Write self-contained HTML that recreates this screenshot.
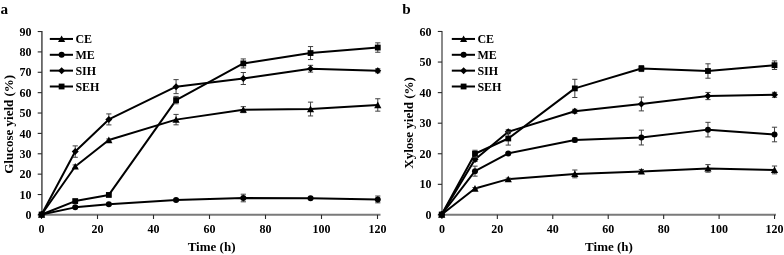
<!DOCTYPE html><html><head><meta charset="utf-8"><style>html,body{margin:0;padding:0;background:#fff;}svg{display:block;filter:grayscale(1);}</style></head><body>
<svg width="784" height="255" viewBox="0 0 784 255">
<rect width="784" height="255" fill="#fff"/>
<g><text x="0.6" y="14" style="font-family:'Liberation Serif',serif;font-weight:bold;font-size:15.2px">a</text><line x1="41.9" y1="31.0" x2="41.9" y2="214.8" stroke="#666" stroke-width="1.8"/><line x1="37.699999999999996" y1="214.90" x2="41.9" y2="214.90" stroke="#2a2a2a" stroke-width="1.1"/><text x="31.40" y="219.00" text-anchor="end" style="font-family:'Liberation Serif',serif;font-weight:bold;font-size:12px">0</text><line x1="37.699999999999996" y1="194.53" x2="41.9" y2="194.53" stroke="#2a2a2a" stroke-width="1.1"/><text x="31.40" y="198.62" text-anchor="end" style="font-family:'Liberation Serif',serif;font-weight:bold;font-size:12px">10</text><line x1="37.699999999999996" y1="174.15" x2="41.9" y2="174.15" stroke="#2a2a2a" stroke-width="1.1"/><text x="31.40" y="178.25" text-anchor="end" style="font-family:'Liberation Serif',serif;font-weight:bold;font-size:12px">20</text><line x1="37.699999999999996" y1="153.78" x2="41.9" y2="153.78" stroke="#2a2a2a" stroke-width="1.1"/><text x="31.40" y="157.88" text-anchor="end" style="font-family:'Liberation Serif',serif;font-weight:bold;font-size:12px">30</text><line x1="37.699999999999996" y1="133.40" x2="41.9" y2="133.40" stroke="#2a2a2a" stroke-width="1.1"/><text x="31.40" y="137.50" text-anchor="end" style="font-family:'Liberation Serif',serif;font-weight:bold;font-size:12px">40</text><line x1="37.699999999999996" y1="113.03" x2="41.9" y2="113.03" stroke="#2a2a2a" stroke-width="1.1"/><text x="31.40" y="117.12" text-anchor="end" style="font-family:'Liberation Serif',serif;font-weight:bold;font-size:12px">50</text><line x1="37.699999999999996" y1="92.65" x2="41.9" y2="92.65" stroke="#2a2a2a" stroke-width="1.1"/><text x="31.40" y="96.75" text-anchor="end" style="font-family:'Liberation Serif',serif;font-weight:bold;font-size:12px">60</text><line x1="37.699999999999996" y1="72.28" x2="41.9" y2="72.28" stroke="#2a2a2a" stroke-width="1.1"/><text x="31.40" y="76.38" text-anchor="end" style="font-family:'Liberation Serif',serif;font-weight:bold;font-size:12px">70</text><line x1="37.699999999999996" y1="51.90" x2="41.9" y2="51.90" stroke="#2a2a2a" stroke-width="1.1"/><text x="31.40" y="56.00" text-anchor="end" style="font-family:'Liberation Serif',serif;font-weight:bold;font-size:12px">80</text><line x1="37.699999999999996" y1="31.53" x2="41.9" y2="31.53" stroke="#2a2a2a" stroke-width="1.1"/><text x="31.40" y="35.63" text-anchor="end" style="font-family:'Liberation Serif',serif;font-weight:bold;font-size:12px">90</text><line x1="41.5" y1="214.8" x2="380.5" y2="214.8" stroke="#7a7a7a" stroke-width="1.9"/><line x1="41.50" y1="214.8" x2="41.50" y2="219.0" stroke="#2a2a2a" stroke-width="1.1"/><text x="41.50" y="233.2" text-anchor="middle" style="font-family:'Liberation Serif',serif;font-weight:bold;font-size:12px">0</text><line x1="97.50" y1="214.8" x2="97.50" y2="219.0" stroke="#2a2a2a" stroke-width="1.1"/><text x="97.50" y="233.2" text-anchor="middle" style="font-family:'Liberation Serif',serif;font-weight:bold;font-size:12px">20</text><line x1="153.50" y1="214.8" x2="153.50" y2="219.0" stroke="#2a2a2a" stroke-width="1.1"/><text x="153.50" y="233.2" text-anchor="middle" style="font-family:'Liberation Serif',serif;font-weight:bold;font-size:12px">40</text><line x1="209.50" y1="214.8" x2="209.50" y2="219.0" stroke="#2a2a2a" stroke-width="1.1"/><text x="209.50" y="233.2" text-anchor="middle" style="font-family:'Liberation Serif',serif;font-weight:bold;font-size:12px">60</text><line x1="265.50" y1="214.8" x2="265.50" y2="219.0" stroke="#2a2a2a" stroke-width="1.1"/><text x="265.50" y="233.2" text-anchor="middle" style="font-family:'Liberation Serif',serif;font-weight:bold;font-size:12px">80</text><line x1="321.50" y1="214.8" x2="321.50" y2="219.0" stroke="#2a2a2a" stroke-width="1.1"/><text x="321.50" y="233.2" text-anchor="middle" style="font-family:'Liberation Serif',serif;font-weight:bold;font-size:12px">100</text><line x1="377.50" y1="214.8" x2="377.50" y2="219.0" stroke="#2a2a2a" stroke-width="1.1"/><text x="377.50" y="233.2" text-anchor="middle" style="font-family:'Liberation Serif',serif;font-weight:bold;font-size:12px">120</text><text x="211.6" y="251" text-anchor="middle" style="font-family:'Liberation Serif',serif;font-weight:bold;font-size:13px">Time (h)</text><text transform="translate(13.3,124.3) rotate(-90)" x="0" y="0" text-anchor="middle" style="font-family:'Liberation Serif',serif;font-weight:bold;font-size:13px">Glucose yield (%)</text><polyline points="41.60,214.50 75.22,166.45 108.84,139.98 176.07,119.62 243.31,109.65 310.54,109.04 377.78,104.96" fill="none" stroke="#000" stroke-width="2.0" stroke-linejoin="round"/><path d="M75.22,164.95V167.95M72.62,164.95H77.82M72.62,167.95H77.82" stroke="#404040" stroke-width="1" fill="none"/><path d="M108.84,138.98V140.98M106.24,138.98H111.44M106.24,140.98H111.44" stroke="#404040" stroke-width="1" fill="none"/><path d="M176.07,114.42V124.82M173.47,114.42H178.67M173.47,124.82H178.67" stroke="#404040" stroke-width="1" fill="none"/><path d="M243.31,106.65V112.65M240.71,106.65H245.91M240.71,112.65H245.91" stroke="#404040" stroke-width="1" fill="none"/><path d="M310.54,102.14V115.94M307.94,102.14H313.14M307.94,115.94H313.14" stroke="#404040" stroke-width="1" fill="none"/><path d="M377.78,98.76V111.16M375.18,98.76H380.38M375.18,111.16H380.38" stroke="#404040" stroke-width="1" fill="none"/><polygon points="41.60,211.07 45.20,217.67 38.00,217.67" fill="#000"/><polygon points="75.22,163.02 78.82,169.62 71.62,169.62" fill="#000"/><polygon points="108.84,136.55 112.44,143.15 105.24,143.15" fill="#000"/><polygon points="176.07,116.19 179.67,122.79 172.47,122.79" fill="#000"/><polygon points="243.31,106.21 246.91,112.81 239.71,112.81" fill="#000"/><polygon points="310.54,105.60 314.14,112.20 306.94,112.20" fill="#000"/><polygon points="377.78,101.53 381.38,108.13 374.18,108.13" fill="#000"/><polyline points="41.60,214.50 75.22,207.37 108.84,204.32 176.07,200.04 243.31,198.01 310.54,198.21 377.78,199.43" fill="none" stroke="#000" stroke-width="2.0" stroke-linejoin="round"/><path d="M75.22,206.37V208.37M72.62,206.37H77.82M72.62,208.37H77.82" stroke="#404040" stroke-width="1" fill="none"/><path d="M108.84,203.32V205.32M106.24,203.32H111.44M106.24,205.32H111.44" stroke="#404040" stroke-width="1" fill="none"/><path d="M176.07,199.04V201.04M173.47,199.04H178.67M173.47,201.04H178.67" stroke="#404040" stroke-width="1" fill="none"/><path d="M243.31,194.21V201.81M240.71,194.21H245.91M240.71,201.81H245.91" stroke="#404040" stroke-width="1" fill="none"/><path d="M310.54,197.21V199.21M307.94,197.21H313.14M307.94,199.21H313.14" stroke="#404040" stroke-width="1" fill="none"/><path d="M377.78,196.03V202.83M375.18,196.03H380.38M375.18,202.83H380.38" stroke="#404040" stroke-width="1" fill="none"/><circle cx="41.60" cy="214.50" r="3.0" fill="#000"/><circle cx="75.22" cy="207.37" r="3.0" fill="#000"/><circle cx="108.84" cy="204.32" r="3.0" fill="#000"/><circle cx="176.07" cy="200.04" r="3.0" fill="#000"/><circle cx="243.31" cy="198.01" r="3.0" fill="#000"/><circle cx="310.54" cy="198.21" r="3.0" fill="#000"/><circle cx="377.78" cy="199.43" r="3.0" fill="#000"/><polyline points="41.60,214.50 75.22,151.59 108.84,119.42 176.07,86.64 243.31,78.50 310.54,68.72 377.78,70.76" fill="none" stroke="#000" stroke-width="2.0" stroke-linejoin="round"/><path d="M75.22,145.89V157.29M72.62,145.89H77.82M72.62,157.29H77.82" stroke="#404040" stroke-width="1" fill="none"/><path d="M108.84,113.92V124.92M106.24,113.92H111.44M106.24,124.92H111.44" stroke="#404040" stroke-width="1" fill="none"/><path d="M176.07,79.64V93.64M173.47,79.64H178.67M173.47,93.64H178.67" stroke="#404040" stroke-width="1" fill="none"/><path d="M243.31,72.50V84.50M240.71,72.50H245.91M240.71,84.50H245.91" stroke="#404040" stroke-width="1" fill="none"/><path d="M310.54,65.32V72.12M307.94,65.32H313.14M307.94,72.12H313.14" stroke="#404040" stroke-width="1" fill="none"/><path d="M377.78,68.76V72.76M375.18,68.76H380.38M375.18,72.76H380.38" stroke="#404040" stroke-width="1" fill="none"/><polygon points="41.60,211.00 45.10,214.50 41.60,218.00 38.10,214.50" fill="#000"/><polygon points="75.22,148.09 78.72,151.59 75.22,155.09 71.72,151.59" fill="#000"/><polygon points="108.84,115.92 112.34,119.42 108.84,122.92 105.34,119.42" fill="#000"/><polygon points="176.07,83.14 179.57,86.64 176.07,90.14 172.57,86.64" fill="#000"/><polygon points="243.31,75.00 246.81,78.50 243.31,82.00 239.81,78.50" fill="#000"/><polygon points="310.54,65.22 314.04,68.72 310.54,72.22 307.04,68.72" fill="#000"/><polygon points="377.78,67.26 381.28,70.76 377.78,74.26 374.28,70.76" fill="#000"/><polyline points="41.60,214.50 75.22,201.06 108.84,194.95 176.07,100.08 243.31,63.43 310.54,53.05 377.78,47.55" fill="none" stroke="#000" stroke-width="2.0" stroke-linejoin="round"/><path d="M75.22,200.06V202.06M72.62,200.06H77.82M72.62,202.06H77.82" stroke="#404040" stroke-width="1" fill="none"/><path d="M108.84,193.95V195.95M106.24,193.95H111.44M106.24,195.95H111.44" stroke="#404040" stroke-width="1" fill="none"/><path d="M176.07,96.38V103.78M173.47,96.38H178.67M173.47,103.78H178.67" stroke="#404040" stroke-width="1" fill="none"/><path d="M243.31,58.93V67.93M240.71,58.93H245.91M240.71,67.93H245.91" stroke="#404040" stroke-width="1" fill="none"/><path d="M310.54,46.55V59.55M307.94,46.55H313.14M307.94,59.55H313.14" stroke="#404040" stroke-width="1" fill="none"/><path d="M377.78,42.85V52.25M375.18,42.85H380.38M375.18,52.25H380.38" stroke="#404040" stroke-width="1" fill="none"/><rect x="38.70" y="211.60" width="5.80" height="5.80" fill="#000"/><rect x="72.32" y="198.16" width="5.80" height="5.80" fill="#000"/><rect x="105.94" y="192.05" width="5.80" height="5.80" fill="#000"/><rect x="173.17" y="97.18" width="5.80" height="5.80" fill="#000"/><rect x="240.41" y="60.53" width="5.80" height="5.80" fill="#000"/><rect x="307.64" y="50.15" width="5.80" height="5.80" fill="#000"/><rect x="374.88" y="44.65" width="5.80" height="5.80" fill="#000"/><line x1="49.80" y1="38.95" x2="73.00" y2="38.95" stroke="#000" stroke-width="2.0"/><polygon points="61.60,35.52 65.20,42.12 58.00,42.12" fill="#000"/><text x="75.40" y="43.05" style="font-family:'Liberation Serif',serif;font-weight:bold;font-size:12px">CE</text><line x1="49.80" y1="54.80" x2="73.00" y2="54.80" stroke="#000" stroke-width="2.0"/><circle cx="61.60" cy="54.80" r="3.0" fill="#000"/><text x="75.40" y="58.90" style="font-family:'Liberation Serif',serif;font-weight:bold;font-size:12px">ME</text><line x1="49.80" y1="70.65" x2="73.00" y2="70.65" stroke="#000" stroke-width="2.0"/><polygon points="61.60,67.15 65.10,70.65 61.60,74.15 58.10,70.65" fill="#000"/><text x="75.40" y="74.75" style="font-family:'Liberation Serif',serif;font-weight:bold;font-size:12px">SIH</text><line x1="49.80" y1="86.50" x2="73.00" y2="86.50" stroke="#000" stroke-width="2.0"/><rect x="58.70" y="83.60" width="5.80" height="5.80" fill="#000"/><text x="75.40" y="90.60" style="font-family:'Liberation Serif',serif;font-weight:bold;font-size:12px">SEH</text></g>
<g><text x="402.2" y="14" style="font-family:'Liberation Serif',serif;font-weight:bold;font-size:15.2px">b</text><line x1="442.0" y1="31.0" x2="442.0" y2="214.8" stroke="#8a8a8a" stroke-width="2.0"/><line x1="437.8" y1="214.90" x2="442.0" y2="214.90" stroke="#2a2a2a" stroke-width="1.1"/><text x="431.50" y="219.00" text-anchor="end" style="font-family:'Liberation Serif',serif;font-weight:bold;font-size:12px">0</text><line x1="437.8" y1="184.33" x2="442.0" y2="184.33" stroke="#2a2a2a" stroke-width="1.1"/><text x="431.50" y="188.43" text-anchor="end" style="font-family:'Liberation Serif',serif;font-weight:bold;font-size:12px">10</text><line x1="437.8" y1="153.76" x2="442.0" y2="153.76" stroke="#2a2a2a" stroke-width="1.1"/><text x="431.50" y="157.86" text-anchor="end" style="font-family:'Liberation Serif',serif;font-weight:bold;font-size:12px">20</text><line x1="437.8" y1="123.19" x2="442.0" y2="123.19" stroke="#2a2a2a" stroke-width="1.1"/><text x="431.50" y="127.29" text-anchor="end" style="font-family:'Liberation Serif',serif;font-weight:bold;font-size:12px">30</text><line x1="437.8" y1="92.62" x2="442.0" y2="92.62" stroke="#2a2a2a" stroke-width="1.1"/><text x="431.50" y="96.72" text-anchor="end" style="font-family:'Liberation Serif',serif;font-weight:bold;font-size:12px">40</text><line x1="437.8" y1="62.05" x2="442.0" y2="62.05" stroke="#2a2a2a" stroke-width="1.1"/><text x="431.50" y="66.15" text-anchor="end" style="font-family:'Liberation Serif',serif;font-weight:bold;font-size:12px">50</text><line x1="437.8" y1="31.48" x2="442.0" y2="31.48" stroke="#2a2a2a" stroke-width="1.1"/><text x="431.50" y="35.58" text-anchor="end" style="font-family:'Liberation Serif',serif;font-weight:bold;font-size:12px">60</text><line x1="441.9" y1="214.8" x2="776.0" y2="214.8" stroke="#7a7a7a" stroke-width="1.9"/><line x1="441.90" y1="214.8" x2="441.90" y2="219.0" stroke="#2a2a2a" stroke-width="1.1"/><text x="441.90" y="233.2" text-anchor="middle" style="font-family:'Liberation Serif',serif;font-weight:bold;font-size:12px">0</text><line x1="497.34" y1="214.8" x2="497.34" y2="219.0" stroke="#2a2a2a" stroke-width="1.1"/><text x="497.34" y="233.2" text-anchor="middle" style="font-family:'Liberation Serif',serif;font-weight:bold;font-size:12px">20</text><line x1="552.78" y1="214.8" x2="552.78" y2="219.0" stroke="#2a2a2a" stroke-width="1.1"/><text x="552.78" y="233.2" text-anchor="middle" style="font-family:'Liberation Serif',serif;font-weight:bold;font-size:12px">40</text><line x1="608.22" y1="214.8" x2="608.22" y2="219.0" stroke="#2a2a2a" stroke-width="1.1"/><text x="608.22" y="233.2" text-anchor="middle" style="font-family:'Liberation Serif',serif;font-weight:bold;font-size:12px">60</text><line x1="663.66" y1="214.8" x2="663.66" y2="219.0" stroke="#2a2a2a" stroke-width="1.1"/><text x="663.66" y="233.2" text-anchor="middle" style="font-family:'Liberation Serif',serif;font-weight:bold;font-size:12px">80</text><line x1="719.10" y1="214.8" x2="719.10" y2="219.0" stroke="#2a2a2a" stroke-width="1.1"/><text x="719.10" y="233.2" text-anchor="middle" style="font-family:'Liberation Serif',serif;font-weight:bold;font-size:12px">100</text><line x1="774.54" y1="214.8" x2="774.54" y2="219.0" stroke="#2a2a2a" stroke-width="1.1"/><text x="774.54" y="233.2" text-anchor="middle" style="font-family:'Liberation Serif',serif;font-weight:bold;font-size:12px">120</text><text x="609.0" y="251" text-anchor="middle" style="font-family:'Liberation Serif',serif;font-weight:bold;font-size:13px">Time (h)</text><text transform="translate(413.3,122.9) rotate(-90)" x="0" y="0" text-anchor="middle" style="font-family:'Liberation Serif',serif;font-weight:bold;font-size:13px">Xylose yield (%)</text><polyline points="441.70,214.50 474.98,188.55 508.26,179.09 574.83,173.90 641.39,171.45 707.96,168.40 774.52,169.93" fill="none" stroke="#000" stroke-width="2.0" stroke-linejoin="round"/><path d="M474.98,187.55V189.55M472.38,187.55H477.58M472.38,189.55H477.58" stroke="#404040" stroke-width="1" fill="none"/><path d="M508.26,178.09V180.09M505.66,178.09H510.86M505.66,180.09H510.86" stroke="#404040" stroke-width="1" fill="none"/><path d="M574.83,170.00V177.80M572.23,170.00H577.43M572.23,177.80H577.43" stroke="#404040" stroke-width="1" fill="none"/><path d="M641.39,169.45V173.45M638.79,169.45H643.99M638.79,173.45H643.99" stroke="#404040" stroke-width="1" fill="none"/><path d="M707.96,164.60V172.20M705.36,164.60H710.56M705.36,172.20H710.56" stroke="#404040" stroke-width="1" fill="none"/><path d="M774.52,166.03V173.83M771.92,166.03H777.12M771.92,173.83H777.12" stroke="#404040" stroke-width="1" fill="none"/><polygon points="441.70,211.07 445.30,217.67 438.10,217.67" fill="#000"/><polygon points="474.98,185.12 478.58,191.72 471.38,191.72" fill="#000"/><polygon points="508.26,175.65 511.86,182.25 504.66,182.25" fill="#000"/><polygon points="574.83,170.46 578.43,177.06 571.23,177.06" fill="#000"/><polygon points="641.39,168.02 644.99,174.62 637.79,174.62" fill="#000"/><polygon points="707.96,164.97 711.56,171.57 704.36,171.57" fill="#000"/><polygon points="774.52,166.49 778.12,173.09 770.92,173.09" fill="#000"/><polyline points="441.70,214.50 474.98,171.15 508.26,153.44 574.83,140.01 641.39,137.56 707.96,129.63 774.52,134.51" fill="none" stroke="#000" stroke-width="2.0" stroke-linejoin="round"/><path d="M474.98,166.15V176.15M472.38,166.15H477.58M472.38,176.15H477.58" stroke="#404040" stroke-width="1" fill="none"/><path d="M508.26,152.44V154.44M505.66,152.44H510.86M505.66,154.44H510.86" stroke="#404040" stroke-width="1" fill="none"/><path d="M574.83,138.01V142.01M572.23,138.01H577.43M572.23,142.01H577.43" stroke="#404040" stroke-width="1" fill="none"/><path d="M641.39,130.16V144.96M638.79,130.16H643.99M638.79,144.96H643.99" stroke="#404040" stroke-width="1" fill="none"/><path d="M707.96,122.33V136.93M705.36,122.33H710.56M705.36,136.93H710.56" stroke="#404040" stroke-width="1" fill="none"/><path d="M774.52,127.21V141.81M771.92,127.21H777.12M771.92,141.81H777.12" stroke="#404040" stroke-width="1" fill="none"/><circle cx="441.70" cy="214.50" r="3.0" fill="#000"/><circle cx="474.98" cy="171.15" r="3.0" fill="#000"/><circle cx="508.26" cy="153.44" r="3.0" fill="#000"/><circle cx="574.83" cy="140.01" r="3.0" fill="#000"/><circle cx="641.39" cy="137.56" r="3.0" fill="#000"/><circle cx="707.96" cy="129.63" r="3.0" fill="#000"/><circle cx="774.52" cy="134.51" r="3.0" fill="#000"/><polyline points="441.70,214.50 474.98,159.55 508.26,131.76 574.83,111.31 641.39,103.98 707.96,96.04 774.52,94.82" fill="none" stroke="#000" stroke-width="2.0" stroke-linejoin="round"/><path d="M474.98,157.55V161.55M472.38,157.55H477.58M472.38,161.55H477.58" stroke="#404040" stroke-width="1" fill="none"/><path d="M508.26,129.76V133.76M505.66,129.76H510.86M505.66,133.76H510.86" stroke="#404040" stroke-width="1" fill="none"/><path d="M574.83,109.31V113.31M572.23,109.31H577.43M572.23,113.31H577.43" stroke="#404040" stroke-width="1" fill="none"/><path d="M641.39,97.08V110.88M638.79,97.08H643.99M638.79,110.88H643.99" stroke="#404040" stroke-width="1" fill="none"/><path d="M707.96,92.44V99.64M705.36,92.44H710.56M705.36,99.64H710.56" stroke="#404040" stroke-width="1" fill="none"/><path d="M774.52,92.32V97.32M771.92,92.32H777.12M771.92,97.32H777.12" stroke="#404040" stroke-width="1" fill="none"/><polygon points="441.70,211.00 445.20,214.50 441.70,218.00 438.20,214.50" fill="#000"/><polygon points="474.98,156.05 478.48,159.55 474.98,163.05 471.48,159.55" fill="#000"/><polygon points="508.26,128.26 511.76,131.76 508.26,135.26 504.76,131.76" fill="#000"/><polygon points="574.83,107.81 578.33,111.31 574.83,114.81 571.33,111.31" fill="#000"/><polygon points="641.39,100.48 644.89,103.98 641.39,107.48 637.89,103.98" fill="#000"/><polygon points="707.96,92.54 711.46,96.04 707.96,99.54 704.46,96.04" fill="#000"/><polygon points="774.52,91.32 778.02,94.82 774.52,98.32 771.02,94.82" fill="#000"/><polyline points="441.70,214.50 474.98,153.75 508.26,138.48 574.83,88.41 641.39,68.57 707.96,71.01 774.52,65.21" fill="none" stroke="#000" stroke-width="2.0" stroke-linejoin="round"/><path d="M474.98,150.25V157.25M472.38,150.25H477.58M472.38,157.25H477.58" stroke="#404040" stroke-width="1" fill="none"/><path d="M508.26,131.88V145.08M505.66,131.88H510.86M505.66,145.08H510.86" stroke="#404040" stroke-width="1" fill="none"/><path d="M574.83,79.31V97.51M572.23,79.31H577.43M572.23,97.51H577.43" stroke="#404040" stroke-width="1" fill="none"/><path d="M641.39,65.57V71.57M638.79,65.57H643.99M638.79,71.57H643.99" stroke="#404040" stroke-width="1" fill="none"/><path d="M707.96,63.81V78.21M705.36,63.81H710.56M705.36,78.21H710.56" stroke="#404040" stroke-width="1" fill="none"/><path d="M774.52,60.91V69.51M771.92,60.91H777.12M771.92,69.51H777.12" stroke="#404040" stroke-width="1" fill="none"/><rect x="438.80" y="211.60" width="5.80" height="5.80" fill="#000"/><rect x="472.08" y="150.85" width="5.80" height="5.80" fill="#000"/><rect x="505.36" y="135.58" width="5.80" height="5.80" fill="#000"/><rect x="571.93" y="85.51" width="5.80" height="5.80" fill="#000"/><rect x="638.49" y="65.67" width="5.80" height="5.80" fill="#000"/><rect x="705.06" y="68.11" width="5.80" height="5.80" fill="#000"/><rect x="771.62" y="62.31" width="5.80" height="5.80" fill="#000"/><line x1="451.80" y1="38.95" x2="475.00" y2="38.95" stroke="#000" stroke-width="2.0"/><polygon points="463.60,35.52 467.20,42.12 460.00,42.12" fill="#000"/><text x="477.40" y="43.05" style="font-family:'Liberation Serif',serif;font-weight:bold;font-size:12px">CE</text><line x1="451.80" y1="54.80" x2="475.00" y2="54.80" stroke="#000" stroke-width="2.0"/><circle cx="463.60" cy="54.80" r="3.0" fill="#000"/><text x="477.40" y="58.90" style="font-family:'Liberation Serif',serif;font-weight:bold;font-size:12px">ME</text><line x1="451.80" y1="70.65" x2="475.00" y2="70.65" stroke="#000" stroke-width="2.0"/><polygon points="463.60,67.15 467.10,70.65 463.60,74.15 460.10,70.65" fill="#000"/><text x="477.40" y="74.75" style="font-family:'Liberation Serif',serif;font-weight:bold;font-size:12px">SIH</text><line x1="451.80" y1="86.50" x2="475.00" y2="86.50" stroke="#000" stroke-width="2.0"/><rect x="460.70" y="83.60" width="5.80" height="5.80" fill="#000"/><text x="477.40" y="90.60" style="font-family:'Liberation Serif',serif;font-weight:bold;font-size:12px">SEH</text></g>
</svg></body></html>
